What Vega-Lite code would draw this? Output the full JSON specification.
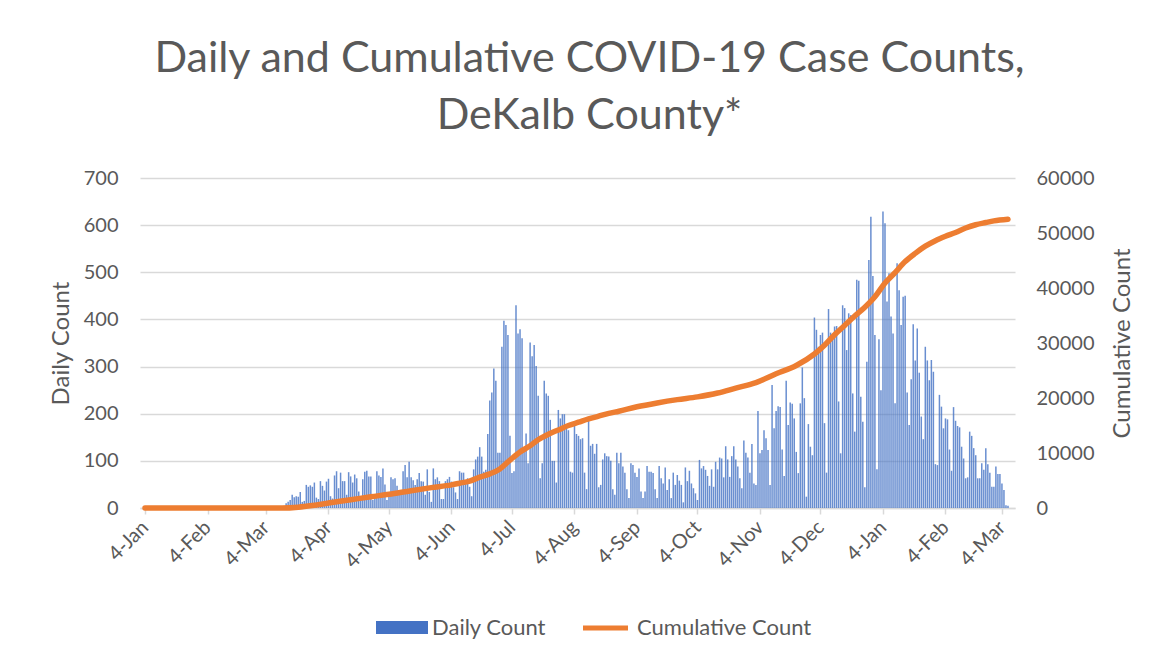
{
  "$schema": "https://vega.github.io/schema/vega-lite/v6.json",
  "width": 875,
  "height": 330,
  "autosize": {"type": "none"},
  "padding": {"left": 140, "top": 178, "right": 146, "bottom": 151},
  "background": "white",
  "config": {
    "view": {"stroke": null},
    "font": "Lato",
    "axis": {"labelFont": "Lato", "titleFont": "Lato", "labelColor": "#595959", "titleColor": "#595959", "titleFontWeight": "normal"},
    "legend": {"labelFont": "Lato"}
  },
  "title": {
    "text": ["Daily and Cumulative COVID-19 Case Counts,", "DeKalb County*"],
    "fontSize": 43,
    "font": "Lato",
    "fontWeight": "normal",
    "color": "#595959",
    "lineHeight": 57,
    "offset": 30,
    "dx": 12,
    "anchor": "middle"
  },
  "datasets": {
    "daily": [
      {"date":"2020-03-14","daily":10},{"date":"2020-03-15","daily":13},{"date":"2020-03-16","daily":17},{"date":"2020-03-17","daily":28},{"date":"2020-03-18","daily":23},{"date":"2020-03-19","daily":25},{"date":"2020-03-20","daily":24},{"date":"2020-03-21","daily":34},{"date":"2020-03-22","daily":13},{"date":"2020-03-23","daily":15},{"date":"2020-03-24","daily":49},{"date":"2020-03-25","daily":45},{"date":"2020-03-26","daily":48},{"date":"2020-03-27","daily":45},{"date":"2020-03-28","daily":54},{"date":"2020-03-29","daily":22},{"date":"2020-03-30","daily":19},{"date":"2020-03-31","daily":57},
      {"date":"2020-04-01","daily":47},{"date":"2020-04-02","daily":37},{"date":"2020-04-03","daily":56},{"date":"2020-04-04","daily":62},{"date":"2020-04-05","daily":25},{"date":"2020-04-06","daily":20},{"date":"2020-04-07","daily":69},{"date":"2020-04-08","daily":78},{"date":"2020-04-09","daily":42},{"date":"2020-04-10","daily":75},{"date":"2020-04-11","daily":57},{"date":"2020-04-12","daily":57},{"date":"2020-04-13","daily":28},{"date":"2020-04-14","daily":76},{"date":"2020-04-15","daily":67},{"date":"2020-04-16","daily":54},{"date":"2020-04-17","daily":71},{"date":"2020-04-18","daily":63},{"date":"2020-04-19","daily":35},{"date":"2020-04-20","daily":17},{"date":"2020-04-21","daily":61},{"date":"2020-04-22","daily":77},{"date":"2020-04-23","daily":79},{"date":"2020-04-24","daily":67},{"date":"2020-04-25","daily":67},{"date":"2020-04-26","daily":17},{"date":"2020-04-27","daily":22},{"date":"2020-04-28","daily":78},{"date":"2020-04-29","daily":69},{"date":"2020-04-30","daily":66},
      {"date":"2020-05-01","daily":84},{"date":"2020-05-02","daily":50},{"date":"2020-05-03","daily":17},{"date":"2020-05-04","daily":24},{"date":"2020-05-05","daily":65},{"date":"2020-05-06","daily":61},{"date":"2020-05-07","daily":63},{"date":"2020-05-08","daily":47},{"date":"2020-05-09","daily":28},{"date":"2020-05-10","daily":30},{"date":"2020-05-11","daily":78},{"date":"2020-05-12","daily":91},{"date":"2020-05-13","daily":65},{"date":"2020-05-14","daily":98},{"date":"2020-05-15","daily":65},{"date":"2020-05-16","daily":59},{"date":"2020-05-17","daily":49},{"date":"2020-05-18","daily":61},{"date":"2020-05-19","daily":74},{"date":"2020-05-20","daily":57},{"date":"2020-05-21","daily":56},{"date":"2020-05-22","daily":28},{"date":"2020-05-23","daily":82},{"date":"2020-05-24","daily":34},{"date":"2020-05-25","daily":13},{"date":"2020-05-26","daily":84},{"date":"2020-05-27","daily":61},{"date":"2020-05-28","daily":65},{"date":"2020-05-29","daily":57},{"date":"2020-05-30","daily":19},{"date":"2020-05-31","daily":19},
      {"date":"2020-06-01","daily":57},{"date":"2020-06-02","daily":61},{"date":"2020-06-03","daily":66},{"date":"2020-06-04","daily":56},{"date":"2020-06-05","daily":44},{"date":"2020-06-06","daily":33},{"date":"2020-06-07","daily":19},{"date":"2020-06-08","daily":78},{"date":"2020-06-09","daily":75},{"date":"2020-06-10","daily":75},{"date":"2020-06-11","daily":52},{"date":"2020-06-12","daily":63},{"date":"2020-06-13","daily":45},{"date":"2020-06-14","daily":25},{"date":"2020-06-15","daily":82},{"date":"2020-06-16","daily":103},{"date":"2020-06-17","daily":109},{"date":"2020-06-18","daily":129},{"date":"2020-06-19","daily":109},{"date":"2020-06-20","daily":77},{"date":"2020-06-21","daily":81},{"date":"2020-06-22","daily":157},{"date":"2020-06-23","daily":228},{"date":"2020-06-24","daily":245},{"date":"2020-06-25","daily":296},{"date":"2020-06-26","daily":270},{"date":"2020-06-27","daily":117},{"date":"2020-06-28","daily":117},{"date":"2020-06-29","daily":342},{"date":"2020-06-30","daily":397},
      {"date":"2020-07-01","daily":388},{"date":"2020-07-02","daily":367},{"date":"2020-07-03","daily":153},{"date":"2020-07-04","daily":74},{"date":"2020-07-05","daily":78},{"date":"2020-07-06","daily":430},{"date":"2020-07-07","daily":370},{"date":"2020-07-08","daily":379},{"date":"2020-07-09","daily":360},{"date":"2020-07-10","daily":119},{"date":"2020-07-11","daily":158},{"date":"2020-07-12","daily":95},{"date":"2020-07-13","daily":351},{"date":"2020-07-14","daily":322},{"date":"2020-07-15","daily":346},{"date":"2020-07-16","daily":301},{"date":"2020-07-17","daily":238},{"date":"2020-07-18","daily":63},{"date":"2020-07-19","daily":95},{"date":"2020-07-20","daily":270},{"date":"2020-07-21","daily":243},{"date":"2020-07-22","daily":238},{"date":"2020-07-23","daily":187},{"date":"2020-07-24","daily":100},{"date":"2020-07-25","daily":100},{"date":"2020-07-26","daily":54},{"date":"2020-07-27","daily":208},{"date":"2020-07-28","daily":190},{"date":"2020-07-29","daily":199},{"date":"2020-07-30","daily":199},{"date":"2020-07-31","daily":171},
      {"date":"2020-08-01","daily":165},{"date":"2020-08-02","daily":77},{"date":"2020-08-03","daily":75},{"date":"2020-08-04","daily":174},{"date":"2020-08-05","daily":157},{"date":"2020-08-06","daily":153},{"date":"2020-08-07","daily":146},{"date":"2020-08-08","daily":148},{"date":"2020-08-09","daily":75},{"date":"2020-08-10","daily":40},{"date":"2020-08-11","daily":185},{"date":"2020-08-12","daily":132},{"date":"2020-08-13","daily":136},{"date":"2020-08-14","daily":115},{"date":"2020-08-15","daily":136},{"date":"2020-08-16","daily":44},{"date":"2020-08-17","daily":49},{"date":"2020-08-18","daily":103},{"date":"2020-08-19","daily":116},{"date":"2020-08-20","daily":110},{"date":"2020-08-21","daily":109},{"date":"2020-08-22","daily":100},{"date":"2020-08-23","daily":40},{"date":"2020-08-24","daily":28},{"date":"2020-08-25","daily":117},{"date":"2020-08-26","daily":95},{"date":"2020-08-27","daily":117},{"date":"2020-08-28","daily":88},{"date":"2020-08-29","daily":75},{"date":"2020-08-30","daily":40},{"date":"2020-08-31","daily":21},
      {"date":"2020-09-01","daily":95},{"date":"2020-09-02","daily":91},{"date":"2020-09-03","daily":75},{"date":"2020-09-04","daily":66},{"date":"2020-09-05","daily":84},{"date":"2020-09-06","daily":35},{"date":"2020-09-07","daily":21},{"date":"2020-09-08","daily":35},{"date":"2020-09-09","daily":89},{"date":"2020-09-10","daily":77},{"date":"2020-09-11","daily":77},{"date":"2020-09-12","daily":74},{"date":"2020-09-13","daily":40},{"date":"2020-09-14","daily":21},{"date":"2020-09-15","daily":89},{"date":"2020-09-16","daily":63},{"date":"2020-09-17","daily":52},{"date":"2020-09-18","daily":86},{"date":"2020-09-19","daily":38},{"date":"2020-09-20","daily":61},{"date":"2020-09-21","daily":21},{"date":"2020-09-22","daily":75},{"date":"2020-09-23","daily":49},{"date":"2020-09-24","daily":70},{"date":"2020-09-25","daily":58},{"date":"2020-09-26","daily":49},{"date":"2020-09-27","daily":12},{"date":"2020-09-28","daily":86},{"date":"2020-09-29","daily":57},{"date":"2020-09-30","daily":79},
      {"date":"2020-10-01","daily":52},{"date":"2020-10-02","daily":42},{"date":"2020-10-03","daily":31},{"date":"2020-10-04","daily":17},{"date":"2020-10-05","daily":102},{"date":"2020-10-06","daily":84},{"date":"2020-10-07","daily":89},{"date":"2020-10-08","daily":81},{"date":"2020-10-09","daily":68},{"date":"2020-10-10","daily":47},{"date":"2020-10-11","daily":82},{"date":"2020-10-12","daily":45},{"date":"2020-10-13","daily":98},{"date":"2020-10-14","daily":82},{"date":"2020-10-15","daily":107},{"date":"2020-10-16","daily":105},{"date":"2020-10-17","daily":65},{"date":"2020-10-18","daily":131},{"date":"2020-10-19","daily":103},{"date":"2020-10-20","daily":66},{"date":"2020-10-21","daily":110},{"date":"2020-10-22","daily":131},{"date":"2020-10-23","daily":103},{"date":"2020-10-24","daily":88},{"date":"2020-10-25","daily":63},{"date":"2020-10-26","daily":42},{"date":"2020-10-27","daily":143},{"date":"2020-10-28","daily":117},{"date":"2020-10-29","daily":107},{"date":"2020-10-30","daily":75},{"date":"2020-10-31","daily":136},
      {"date":"2020-11-01","daily":52},{"date":"2020-11-02","daily":49},{"date":"2020-11-03","daily":206},{"date":"2020-11-04","daily":116},{"date":"2020-11-05","daily":123},{"date":"2020-11-06","daily":165},{"date":"2020-11-07","daily":148},{"date":"2020-11-08","daily":123},{"date":"2020-11-09","daily":49},{"date":"2020-11-10","daily":261},{"date":"2020-11-11","daily":169},{"date":"2020-11-12","daily":206},{"date":"2020-11-13","daily":216},{"date":"2020-11-14","daily":214},{"date":"2020-11-15","daily":124},{"date":"2020-11-16","daily":68},{"date":"2020-11-17","daily":270},{"date":"2020-11-18","daily":176},{"date":"2020-11-19","daily":224},{"date":"2020-11-20","daily":221},{"date":"2020-11-21","daily":190},{"date":"2020-11-22","daily":119},{"date":"2020-11-23","daily":74},{"date":"2020-11-24","daily":222},{"date":"2020-11-25","daily":298},{"date":"2020-11-26","daily":233},{"date":"2020-11-27","daily":24},{"date":"2020-11-28","daily":178},{"date":"2020-11-29","daily":130},{"date":"2020-11-30","daily":112},
      {"date":"2020-12-01","daily":404},{"date":"2020-12-02","daily":378},{"date":"2020-12-03","daily":342},{"date":"2020-12-04","daily":367},{"date":"2020-12-05","daily":372},{"date":"2020-12-06","daily":180},{"date":"2020-12-07","daily":75},{"date":"2020-12-08","daily":422},{"date":"2020-12-09","daily":372},{"date":"2020-12-10","daily":365},{"date":"2020-12-11","daily":385},{"date":"2020-12-12","daily":386},{"date":"2020-12-13","daily":226},{"date":"2020-12-14","daily":116},{"date":"2020-12-15","daily":430},{"date":"2020-12-16","daily":424},{"date":"2020-12-17","daily":335},{"date":"2020-12-18","daily":413},{"date":"2020-12-19","daily":409},{"date":"2020-12-20","daily":243},{"date":"2020-12-21","daily":162},{"date":"2020-12-22","daily":484},{"date":"2020-12-23","daily":482},{"date":"2020-12-24","daily":236},{"date":"2020-12-25","daily":183},{"date":"2020-12-26","daily":44},{"date":"2020-12-27","daily":310},{"date":"2020-12-28","daily":526},{"date":"2020-12-29","daily":618},{"date":"2020-12-30","daily":492},{"date":"2020-12-31","daily":367},
      {"date":"2021-01-01","daily":82},{"date":"2021-01-02","daily":358},{"date":"2021-01-03","daily":250},{"date":"2021-01-04","daily":629},{"date":"2021-01-05","daily":604},{"date":"2021-01-06","daily":438},{"date":"2021-01-07","daily":498},{"date":"2021-01-08","daily":406},{"date":"2021-01-09","daily":370},{"date":"2021-01-10","daily":222},{"date":"2021-01-11","daily":519},{"date":"2021-01-12","daily":462},{"date":"2021-01-13","daily":388},{"date":"2021-01-14","daily":448},{"date":"2021-01-15","daily":450},{"date":"2021-01-16","daily":245},{"date":"2021-01-17","daily":176},{"date":"2021-01-18","daily":273},{"date":"2021-01-19","daily":390},{"date":"2021-01-20","daily":313},{"date":"2021-01-21","daily":381},{"date":"2021-01-22","daily":287},{"date":"2021-01-23","daily":194},{"date":"2021-01-24","daily":146},{"date":"2021-01-25","daily":342},{"date":"2021-01-26","daily":313},{"date":"2021-01-27","daily":271},{"date":"2021-01-28","daily":314},{"date":"2021-01-29","daily":289},{"date":"2021-01-30","daily":93},{"date":"2021-01-31","daily":91},
      {"date":"2021-02-01","daily":240},{"date":"2021-02-02","daily":215},{"date":"2021-02-03","daily":169},{"date":"2021-02-04","daily":190},{"date":"2021-02-05","daily":188},{"date":"2021-02-06","daily":124},{"date":"2021-02-07","daily":79},{"date":"2021-02-08","daily":214},{"date":"2021-02-09","daily":185},{"date":"2021-02-10","daily":174},{"date":"2021-02-11","daily":171},{"date":"2021-02-12","daily":130},{"date":"2021-02-13","daily":105},{"date":"2021-02-14","daily":63},{"date":"2021-02-15","daily":65},{"date":"2021-02-16","daily":162},{"date":"2021-02-17","daily":153},{"date":"2021-02-18","daily":127},{"date":"2021-02-19","daily":112},{"date":"2021-02-20","daily":63},{"date":"2021-02-21","daily":63},{"date":"2021-02-22","daily":95},{"date":"2021-02-23","daily":81},{"date":"2021-02-24","daily":127},{"date":"2021-02-25","daily":93},{"date":"2021-02-26","daily":75},{"date":"2021-02-27","daily":45},{"date":"2021-02-28","daily":45},
      {"date":"2021-03-01","daily":88},{"date":"2021-03-02","daily":72},{"date":"2021-03-03","daily":72},{"date":"2021-03-04","daily":52},{"date":"2021-03-05","daily":38},{"date":"2021-03-06","daily":6},{"date":"2021-03-07","daily":5}
    ],
    "cum": [
      {"date":"2020-01-04","cumulative":0},{"date":"2020-03-12","cumulative":0},{"date":"2020-03-20","cumulative":150},{"date":"2020-03-27","cumulative":450},{"date":"2020-04-04","cumulative":900},{"date":"2020-04-15","cumulative":1500},{"date":"2020-04-25","cumulative":2050},{"date":"2020-05-04","cumulative":2500},{"date":"2020-05-15","cumulative":3150},{"date":"2020-05-25","cumulative":3700},{"date":"2020-06-04","cumulative":4200},{"date":"2020-06-08","cumulative":4500},{"date":"2020-06-13","cumulative":4900},{"date":"2020-06-18","cumulative":5600},{"date":"2020-06-23","cumulative":6200},{"date":"2020-06-28","cumulative":7100},{"date":"2020-07-03","cumulative":8700},{"date":"2020-07-08","cumulative":10200},{"date":"2020-07-13","cumulative":11300},{"date":"2020-07-17","cumulative":12400},{"date":"2020-07-22","cumulative":13400},{"date":"2020-07-27","cumulative":14200},{"date":"2020-08-01","cumulative":15000},{"date":"2020-08-06","cumulative":15600},{"date":"2020-08-11","cumulative":16200},{"date":"2020-08-16","cumulative":16700},{"date":"2020-08-21","cumulative":17200},{"date":"2020-08-26","cumulative":17600},{"date":"2020-09-04","cumulative":18400},{"date":"2020-09-14","cumulative":19100},{"date":"2020-09-24","cumulative":19700},{"date":"2020-10-04","cumulative":20200},{"date":"2020-10-14","cumulative":20900},{"date":"2020-10-23","cumulative":21800},{"date":"2020-11-02","cumulative":22800},{"date":"2020-11-12","cumulative":24400},{"date":"2020-11-22","cumulative":25900},{"date":"2020-12-01","cumulative":28000},{"date":"2020-12-06","cumulative":29600},{"date":"2020-12-11","cumulative":31500},{"date":"2020-12-16","cumulative":33200},{"date":"2020-12-21","cumulative":34900},{"date":"2020-12-26","cumulative":36500},{"date":"2020-12-31","cumulative":38400},{"date":"2021-01-05","cumulative":40900},{"date":"2021-01-10","cumulative":42800},{"date":"2021-01-15","cumulative":44800},{"date":"2021-01-20","cumulative":46300},{"date":"2021-01-25","cumulative":47600},{"date":"2021-01-30","cumulative":48600},{"date":"2021-02-04","cumulative":49400},{"date":"2021-02-09","cumulative":50100},{"date":"2021-02-14","cumulative":50900},{"date":"2021-02-19","cumulative":51500},{"date":"2021-02-24","cumulative":51900},{"date":"2021-02-28","cumulative":52200},{"date":"2021-03-07","cumulative":52500}
    ]
  },
  "layer": [
    {
      "data": {"name": "daily"},
      "mark": {"type": "bar", "width": 1.5, "opacity": 0.8},
      "encoding": {
        "x": {
          "field": "date",
          "type": "temporal",
          "scale": {"type": "utc", "domain": [{"year": 2020, "month": 1, "date": 4, "utc": true}, {"year": 2021, "month": 3, "date": 8, "utc": true}]},
          "axis": {
            "title": null,
            "grid": false,
            "values": [
              {"year": 2020, "month": 1, "date": 4, "utc": true},
              {"year": 2020, "month": 2, "date": 4, "utc": true},
              {"year": 2020, "month": 3, "date": 4, "utc": true},
              {"year": 2020, "month": 4, "date": 4, "utc": true},
              {"year": 2020, "month": 5, "date": 4, "utc": true},
              {"year": 2020, "month": 6, "date": 4, "utc": true},
              {"year": 2020, "month": 7, "date": 4, "utc": true},
              {"year": 2020, "month": 8, "date": 4, "utc": true},
              {"year": 2020, "month": 9, "date": 4, "utc": true},
              {"year": 2020, "month": 10, "date": 4, "utc": true},
              {"year": 2020, "month": 11, "date": 4, "utc": true},
              {"year": 2020, "month": 12, "date": 4, "utc": true},
              {"year": 2021, "month": 1, "date": 4, "utc": true},
              {"year": 2021, "month": 2, "date": 4, "utc": true},
              {"year": 2021, "month": 3, "date": 4, "utc": true}
            ],
            "format": "%-d-%b",
            "labelAngle": -45,
            "labelAlign": "right",
            "labelBaseline": "middle",
            "labelFontSize": 20,
            "labelPadding": 10,
            "labelOverlap": false,
            "labelFlush": false,
            "domainColor": "#D9D9D9",
            "domainWidth": 1.5,
            "tickColor": "#D9D9D9",
            "tickWidth": 1.5,
            "tickSize": 6
          }
        },
        "y": {
          "field": "daily",
          "type": "quantitative",
          "scale": {"domain": [0, 700], "nice": false},
          "axis": {
            "title": "Daily Count",
            "values": [0, 100, 200, 300, 400, 500, 600, 700],
            "grid": true,
            "gridColor": "#D9D9D9",
            "gridWidth": 1.5,
            "domain": false,
            "ticks": false,
            "labelFontSize": 20,
            "labelPadding": 22,
            "titleFontSize": 24,
            "titlePadding": 10
          }
        },
        "fill": {
          "datum": "Daily Count",
          "type": "nominal",
          "scale": {"domain": ["Daily Count"], "range": ["#4472C4"]},
          "legend": {
            "title": null,
            "orient": "none",
            "legendX": 236,
            "legendY": 423.5,
            "direction": "horizontal",
            "padding": 0,
            "labelFontSize": 22,
            "labelColor": "#595959",
            "labelOffset": 4,
            "labelLimit": 0,
            "symbolType": "M-1,-0.25H1V0.25H-1Z",
            "symbolSize": 2704,
            "symbolOpacity": 1,
            "symbolStrokeWidth": 0,
            "symbolFillColor": "#4472C4"
          }
        }
      }
    },
    {
      "data": {"name": "cum"},
      "mark": {"type": "line", "strokeWidth": 5.5, "strokeCap": "round", "strokeJoin": "round", "interpolate": "monotone"},
      "encoding": {
        "x": {"field": "date", "type": "temporal"},
        "y": {
          "field": "cumulative",
          "type": "quantitative",
          "scale": {"domain": [0, 60000], "nice": false},
          "axis": {
            "orient": "right",
            "title": "Cumulative Count",
            "titleAngle": -90,
            "titleBaseline": "top",
            "values": [0, 10000, 20000, 30000, 40000, 50000, 60000],
            "format": "d",
            "grid": false,
            "domain": false,
            "ticks": false,
            "labelFontSize": 20,
            "labelPadding": 21,
            "titleFontSize": 24,
            "titlePadding": 16
          }
        },
        "stroke": {
          "datum": "Cumulative Count",
          "type": "nominal",
          "scale": {"domain": ["Cumulative Count"], "range": ["#ED7D31"]},
          "legend": {
            "title": null,
            "orient": "none",
            "legendX": 440.5,
            "legendY": 425,
            "direction": "horizontal",
            "padding": 0,
            "labelFontSize": 22,
            "labelColor": "#595959",
            "labelOffset": 6.5,
            "labelLimit": 0,
            "symbolType": "stroke",
            "symbolSize": 2025,
            "symbolStrokeWidth": 5,
            "symbolOpacity": 1
          }
        }
      }
    }
  ],
  "resolve": {"scale": {"y": "independent"}}
}
